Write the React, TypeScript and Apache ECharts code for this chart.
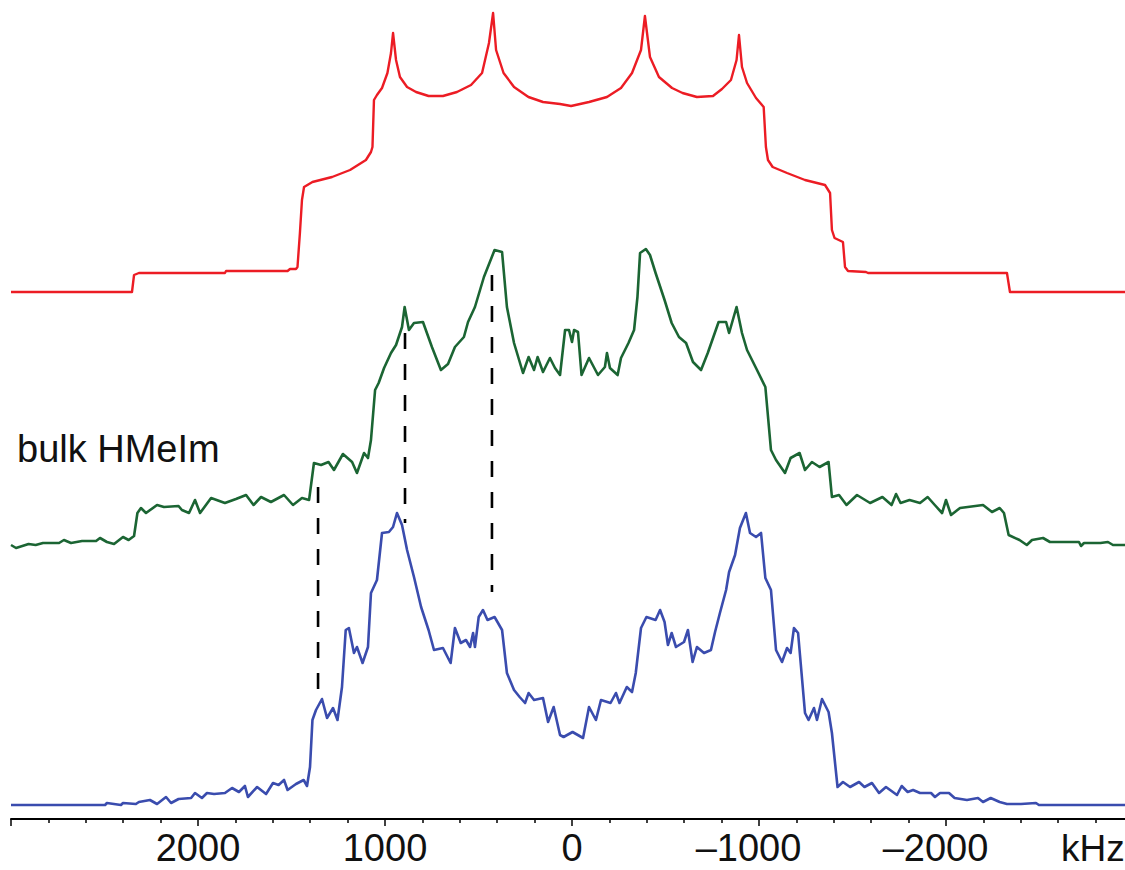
import React, { useEffect, useRef } from "react";
import * as echarts from "echarts";

// x in kHz, y = intensity (arbitrary units, relative to each trace's own baseline)
const redTrace: number[][] = [[3000,0],[2353,0],[2342,17],[2316,19],[1856,19],[1850,21],[1521,21],[1508,23],[1476,23],[1468,25],[1455,59],[1444,92],[1433,105],[1388,110],[1283,115],[1187,122],[1102,132],[1075,140],[1067,145],[1059,192],[1043,197],[1016,204],[987,219],[968,239],[957,259],[941,232],[920,215],[882,205],[834,200],[767,196],[690,196],[615,200],[540,207],[481,219],[444,249],[422,279],[406,242],[366,219],[310,205],[233,195],[155,190],[64,188],[5,186],[-91,190],[-187,195],[-262,204],[-321,219],[-369,242],[-390,276],[-417,235],[-465,215],[-535,204],[-591,199],[-668,195],[-754,196],[-802,203],[-850,212],[-880,232],[-893,257],[-909,225],[-936,209],[-984,194],[-1025,185],[-1037,145],[-1048,132],[-1073,125],[-1150,119],[-1246,112],[-1353,107],[-1380,99],[-1390,62],[-1404,54],[-1449,50],[-1460,25],[-1476,21],[-1572,20],[-1583,19],[-2326,19],[-2342,0],[-3000,0]];

const greenTrace: number[][] = [[3000,0],[2973,-3],[2906,1],[2868,0],[2829,2],[2743,2],[2717,5],[2679,2],[2620,4],[2545,4],[2524,7],[2487,3],[2449,1],[2401,8],[2371,5],[2342,9],[2324,32],[2305,37],[2278,32],[2219,40],[2182,38],[2104,39],[2086,35],[2048,32],[2016,45],[1989,32],[1930,47],[1856,42],[1797,46],[1743,50],[1703,40],[1663,48],[1610,43],[1540,50],[1492,40],[1444,47],[1406,45],[1380,82],[1342,80],[1302,83],[1273,75],[1225,91],[1176,83],[1150,72],[1112,92],[1091,87],[1075,105],[1053,155],[1034,162],[1005,177],[968,192],[941,200],[909,218],[895,238],[872,215],[845,222],[797,223],[749,198],[701,175],[663,181],[626,198],[578,208],[556,223],[519,238],[471,268],[414,295],[374,293],[348,238],[310,202],[262,172],[232,188],[203,175],[184,188],[155,173],[118,187],[91,177],[64,170],[37,215],[16,215],[0,203],[-11,215],[-32,213],[-51,170],[-91,187],[-139,170],[-176,178],[-187,192],[-203,177],[-244,170],[-262,187],[-302,202],[-332,215],[-350,248],[-364,292],[-395,296],[-417,290],[-447,272],[-495,245],[-533,222],[-572,208],[-610,202],[-647,183],[-690,175],[-726,192],[-784,223],[-824,223],[-840,212],[-880,238],[-909,212],[-936,195],[-984,177],[-1034,158],[-1064,95],[-1091,85],[-1139,72],[-1169,87],[-1217,92],[-1246,75],[-1283,83],[-1324,78],[-1372,83],[-1390,48],[-1428,50],[-1468,40],[-1524,50],[-1594,42],[-1660,48],[-1709,40],[-1733,51],[-1757,42],[-1805,45],[-1861,42],[-1902,48],[-1940,40],[-1979,32],[-2000,45],[-2027,30],[-2075,37],[-2198,40],[-2246,33],[-2287,37],[-2310,32],[-2335,10],[-2393,5],[-2432,0],[-2460,5],[-2519,7],[-2556,3],[-2711,3],[-2722,-1],[-2738,2],[-2826,2],[-2866,3],[-2893,0],[-3000,0]];

const blueTrace: number[][] = [[3000,0],[2497,0],[2487,2],[2412,0],[2401,2],[2332,1],[2316,3],[2257,5],[2219,1],[2171,8],[2144,2],[2104,6],[2037,7],[2016,12],[1979,7],[1952,12],[1914,11],[1856,12],[1818,17],[1781,13],[1749,19],[1733,8],[1684,18],[1636,11],[1599,22],[1569,20],[1540,25],[1521,15],[1476,21],[1435,25],[1417,19],[1401,38],[1388,85],[1369,95],[1337,106],[1310,87],[1278,97],[1254,85],[1230,118],[1210,175],[1193,177],[1166,152],[1150,158],[1120,142],[1091,158],[1075,212],[1043,225],[1016,272],[979,273],[957,278],[936,292],[909,280],[882,255],[845,228],[807,198],[767,175],[738,155],[690,157],[649,142],[626,177],[595,162],[567,165],[545,158],[529,172],[519,158],[499,188],[476,195],[452,185],[414,188],[374,175],[348,132],[310,115],[280,108],[251,102],[232,112],[203,105],[155,107],[128,83],[98,98],[64,70],[45,68],[-3,73],[-59,67],[-91,98],[-128,85],[-155,105],[-206,102],[-235,112],[-254,102],[-293,118],[-321,113],[-341,132],[-369,177],[-398,188],[-447,185],[-471,195],[-495,183],[-513,160],[-533,172],[-556,158],[-599,163],[-620,175],[-645,143],[-668,158],[-706,152],[-743,155],[-765,173],[-791,192],[-824,215],[-840,233],[-872,250],[-898,277],[-930,292],[-952,272],[-984,268],[-1011,272],[-1034,227],[-1064,215],[-1091,155],[-1123,143],[-1150,157],[-1169,152],[-1187,177],[-1209,172],[-1246,92],[-1265,85],[-1294,97],[-1310,85],[-1337,106],[-1372,93],[-1390,72],[-1420,18],[-1449,23],[-1487,18],[-1535,23],[-1564,18],[-1604,22],[-1642,12],[-1679,18],[-1738,10],[-1763,19],[-1795,13],[-1824,15],[-1861,12],[-1920,12],[-1941,8],[-1968,12],[-2016,12],[-2046,7],[-2112,5],[-2171,7],[-2198,3],[-2239,7],[-2287,3],[-2326,1],[-2401,1],[-2481,2],[-2497,0],[-3000,0]];

// vertical offsets of the stacked traces (same units as intensity)
const redOffset = 513;
const greenOffset = 260;
const blueOffset = 0;

// dashed guide lines: [kHz, top, bottom] in stacked units
const guides: number[][] = [[1358, 318, 112], [893, 472, 282], [428, 530, 213]];

const xMin = -3000;
const xMax = 3000;
const xInterval = 1000;

const FONT = "'Liberation Sans', Arial, Helvetica, sans-serif";

function shift(trace: number[][], off: number) {
  return trace.map(([x, y]) => [x, y + off]);
}

export default function App() {
  const ref = useRef<HTMLDivElement>(null);
  useEffect(() => {
    if (!ref.current) return;
    const chart = echarts.init(ref.current, null, { renderer: "svg" });
    const traceLine = (data: number[][], color: string, width: number) => ({
      type: "line",
      data,
      showSymbol: false,
      symbol: "none",
      silent: true,
      clip: false,
      lineStyle: { color, width, join: "round" },
      z: 3,
    });
    const guideSeries = guides.map(([x, top, bottom]) => ({
      type: "line",
      data: [[x, top], [x, bottom]],
      showSymbol: false,
      symbol: "none",
      silent: true,
      lineStyle: { color: "#000", width: 2.6, type: [16, 15] },
      z: 2,
    }));
    chart.setOption({
      animation: false,
      backgroundColor: "#fff",
      grid: { left: 11, top: 0, width: 1122, height: 819, containLabel: false, outerBoundsMode: "none" },
      xAxis: {
        type: "value",
        min: xMin,
        max: xMax,
        interval: xInterval,
        inverse: true,
        position: "bottom",
        splitLine: { show: false },
        axisLine: { onZero: false, lineStyle: { color: "#000", width: 2 } },
        axisTick: { show: true, length: 7, lineStyle: { color: "#000", width: 1.5 } },
        minorTick: { show: true, splitNumber: 5, length: 4, lineStyle: { color: "#000", width: 1.5 } },
        minorSplitLine: { show: false },
        axisLabel: {
          fontSize: 38,
          fontFamily: FONT,
          color: "#111",
          margin: 10,
          hideOverlap: false,
          formatter: (v: number) => {
            if (Math.abs(v) > 2000) return "";
            if (v < 0) return "\u2013" + Math.abs(v) + "{p|}";
            return String(v);
          },
          rich: { p: { width: 21, fontSize: 38, fontFamily: FONT } },
        },
      },
      yAxis: { type: "value", min: -14, max: 805, show: false },
      graphic: [
        {
          type: "text",
          x: 17,
          y: 449,
          style: { text: "bulk HMeIm", fontSize: 38, fontFamily: FONT, fill: "#111", verticalAlign: "middle" },
        },
        {
          type: "text",
          x: 1061,
          y: 848,
          style: { text: "kHz", fontSize: 37, fontFamily: FONT, fill: "#111", verticalAlign: "middle" },
        },
      ],
      series: [
        traceLine(shift(redTrace, redOffset), "#ec1c24", 2.4),
        traceLine(shift(greenTrace, greenOffset), "#1b6533", 2.6),
        traceLine(shift(blueTrace, blueOffset), "#3a4cae", 2.6),
        ...guideSeries,
      ],
    });
    return () => chart.dispose();
  }, []);
  return (
    <div
      ref={ref}
      style={{ position: "absolute", left: 0, top: 0, width: 1125, height: 870, background: "#fff" }}
    />
  );
}
